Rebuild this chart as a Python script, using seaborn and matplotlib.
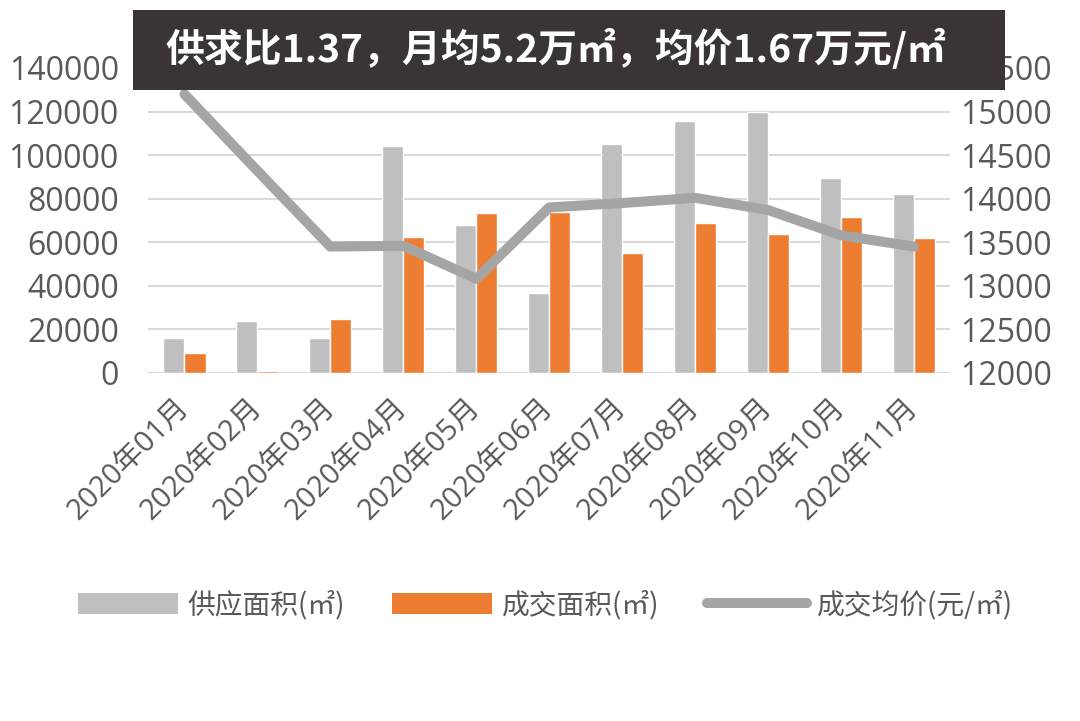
import numpy as np
import pandas as pd
import matplotlib
matplotlib.use("Agg")
import matplotlib.pyplot as plt
import seaborn as sns
from matplotlib.patches import Patch, Rectangle
from matplotlib.lines import Line2D

# ── data ─────────────────────────────────────────────────────────────
MONTHS = [f"2020年{m:02d}月" for m in range(1, 12)]
SUPPLY = [16000, 24000, 16000, 104000, 68000, 36500, 105000, 115500, 120000, 89500, 82000]
DEAL = [9300, 1000, 25000, 62400, 73400, 74000, 55200, 68800, 63800, 71700, 62000]
PRICE = [15200, 14320, 13450, 13460, 13080, 13900, 13950, 14010, 13870, 13580, 13450]

LABEL_SUPPLY = "供应面积(㎡)"
LABEL_DEAL = "成交面积(㎡)"
LABEL_PRICE = "成交均价(元/㎡)"
TITLE = "供求比1.37，月均5.2万㎡，均价1.67万元/㎡"

GRAY = "#bfbfbf"
ORANGE = "#ed7d31"
LINE_GRAY = "#a5a5a5"
TEXT = "#595959"

sns.set_theme(style="white")
plt.rcParams["font.family"] = ["Open Sans", "Noto Sans CJK SC", "DejaVu Sans"]

df = pd.DataFrame({
    "月份": MONTHS * 2,
    "面积": SUPPLY + DEAL,
    "类型": [LABEL_SUPPLY] * len(MONTHS) + [LABEL_DEAL] * len(MONTHS),
})

fig = plt.figure(figsize=(10.8, 7.21), dpi=100)
ax = fig.add_axes([0.137, 0.4827, 0.743, 0.423])

sns.barplot(data=df, x="月份", y="面积", hue="类型", palette=[GRAY, ORANGE],
            width=0.58, gap=0, saturation=1, legend=False, ax=ax)
ax.set_ylim(0, 140000)
ax.set_yticks(np.arange(0, 140001, 20000))
ax.set_xlim(-0.5, len(MONTHS) - 0.5)
ax.yaxis.grid(True, color="#d9d9d9", linewidth=1.5)
ax.set_axisbelow(True)
ax.set_xlabel("")
ax.set_ylabel("")

ax2 = ax.twinx()
sns.lineplot(x=np.arange(len(MONTHS)), y=PRICE, ax=ax2, color=LINE_GRAY,
             linewidth=7.2, solid_capstyle="round", solid_joinstyle="round")
ax2.set_ylim(12000, 15500)
ax2.set_yticks(np.arange(12000, 15501, 500))
ax2.set_ylabel("")

for a in (ax, ax2):
    for s in a.spines.values():
        s.set_visible(False)
    a.tick_params(axis="both", length=0, colors=TEXT, labelsize=23)

ax.tick_params(axis="y", pad=21)
ax2.tick_params(axis="y", pad=7)
ax.set_xticks(np.arange(len(MONTHS)))
ax.set_xticklabels(MONTHS, rotation=45, ha="right", va="center",
                   rotation_mode="anchor", fontsize=21, color=TEXT)
ax.tick_params(axis="x", pad=22)

# title banner
fig.patches.append(Rectangle((0.123, 0.875), 0.808, 0.111, transform=fig.transFigure,
                             facecolor="#3a3534", edgecolor="none", zorder=5))
fig.text(0.515, 0.931, TITLE, ha="center", va="center", color="white",
         fontsize=28, fontweight="bold", family=["Noto Sans CJK SC", "DejaVu Sans"],
         zorder=6)

handles = [
    Patch(facecolor=GRAY, edgecolor="none", label=LABEL_SUPPLY),
    Patch(facecolor=ORANGE, edgecolor="none", label=LABEL_DEAL),
    Line2D([0], [0], color=LINE_GRAY, linewidth=7.2, solid_capstyle="round", label=LABEL_PRICE),
]
leg = fig.legend(handles=handles, loc="center", bbox_to_anchor=(0.505, 0.161), ncol=3,
                 frameon=False, handlelength=3.6, handleheight=0.8,
                 handletextpad=0.35, columnspacing=1.7,
                 prop={"family": ["Noto Sans CJK SC", "DejaVu Sans"], "size": 20})
for t in leg.get_texts():
    t.set_color(TEXT)

fig.savefig("out.png", dpi=100, facecolor="white")
